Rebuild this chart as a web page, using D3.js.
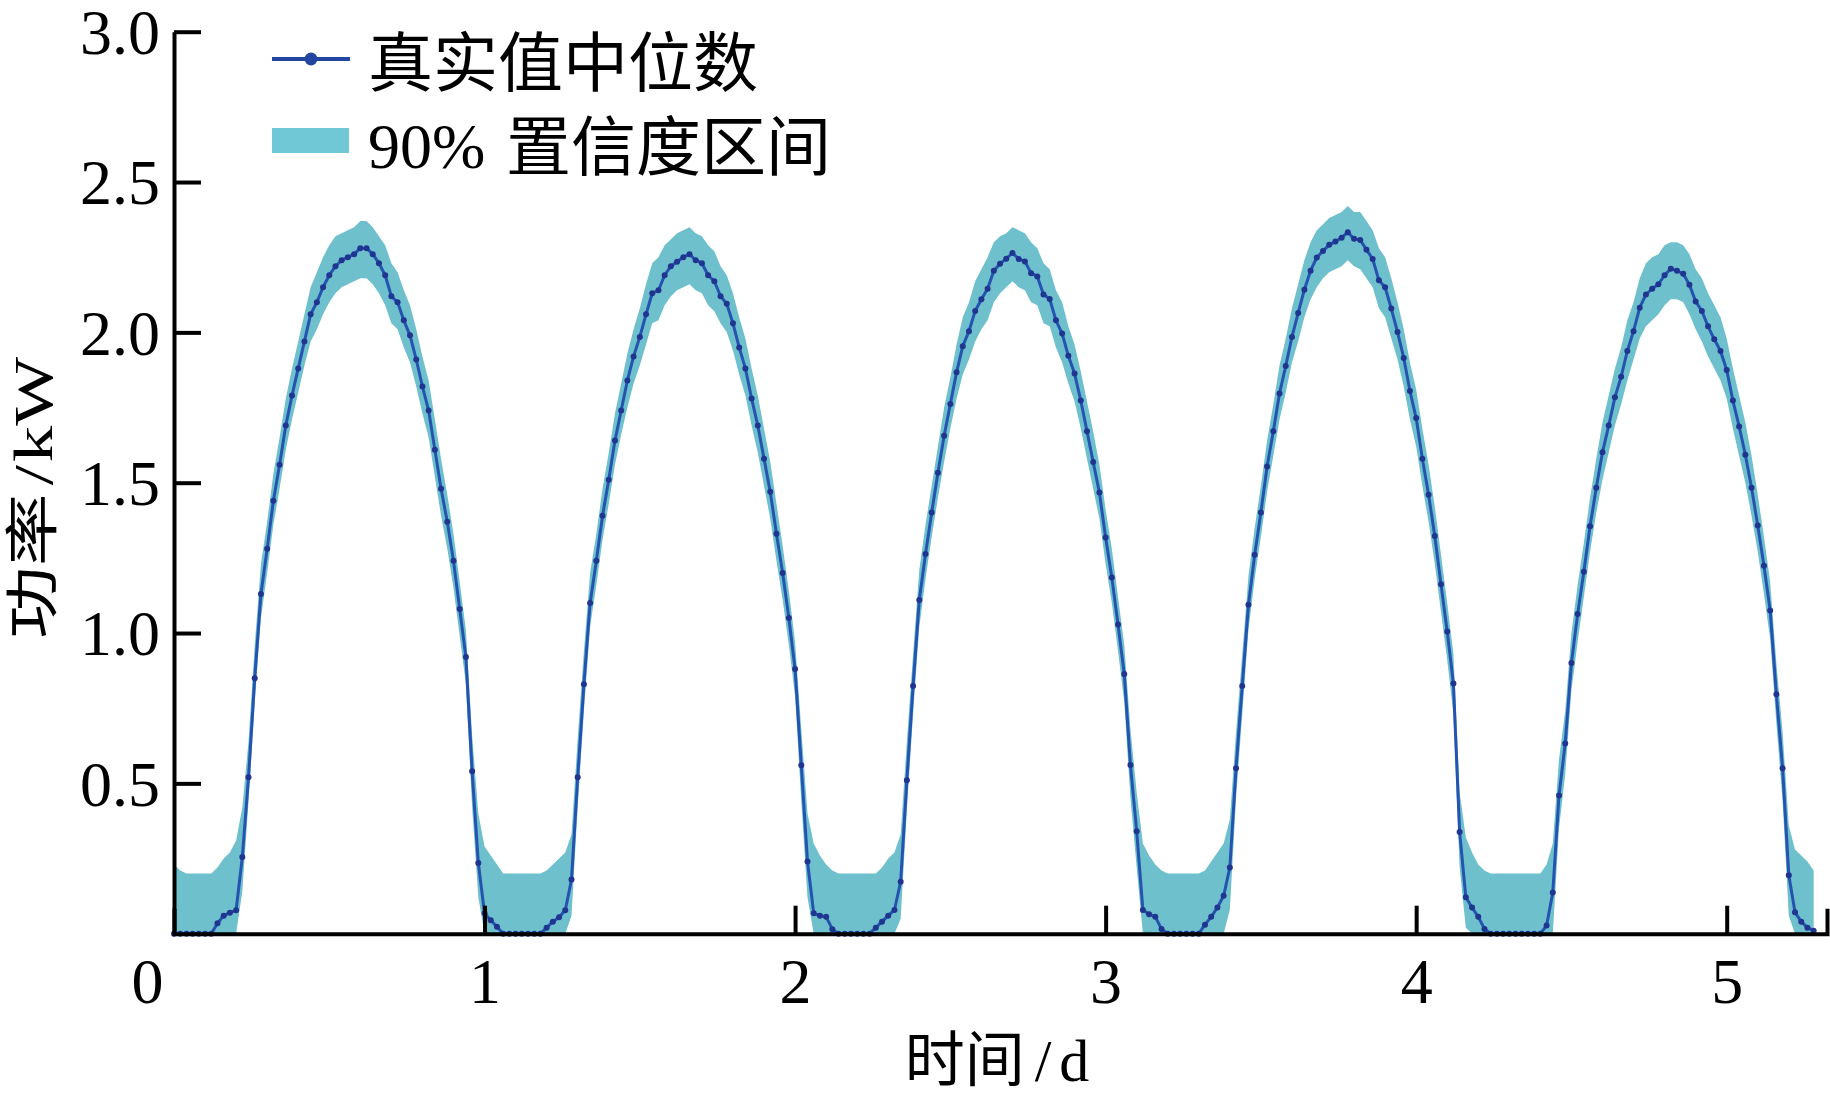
<!DOCTYPE html>
<html><head><meta charset="utf-8">
<script src="https://cdn.jsdelivr.net/npm/d3@7"></script>
<style>body{margin:0;background:#fff}</style>
</head><body>
<svg id="c" width="1830" height="1105"></svg>
<script>
// sample spacing on the time axis (days)
const STEP = 0.02;

// median of measured power (kW), one value per sample
const median = [
  0,0,0,0,0,0,0,0.035,0.06,0.07,                 // 0-9
  0.078,0.255,0.52,0.85,1.13,1.28,1.44,1.56,1.69,1.79, // 10-19
  1.88,1.97,2.06,2.10,2.15,2.19,2.22,2.24,2.25,2.26, // 20-29
  2.28,2.28,2.26,2.23,2.19,2.12,2.10,2.04,1.99,1.91, // 30-39
  1.82,1.74,1.61,1.48,1.37,1.24,1.08,0.92,0.54,0.235, // 40-49
  0.068,0.045,0.023,0,0,0,0,0,0,0,               // 50-59
  0.02,0.04,0.055,0.078,0.18,0.52,0.83,1.10,1.24,1.39, // 60-69
  1.51,1.64,1.74,1.84,1.92,1.985,2.06,2.13,2.14,2.19, // 70-79
  2.22,2.235,2.25,2.26,2.24,2.23,2.19,2.17,2.12,2.095, // 80-89
  2.03,1.95,1.88,1.78,1.69,1.58,1.47,1.33,1.20,1.05, // 90-99
  0.88,0.56,0.24,0.068,0.06,0.056,0.015,0,0,0,   // 100-109
  0,0,0,0.02,0.04,0.06,0.079,0.173,0.51,0.824,   // 110-119
  1.11,1.263,1.401,1.533,1.656,1.762,1.867,1.954,2.004,2.071, // 120-129
  2.11,2.145,2.205,2.228,2.245,2.264,2.244,2.236,2.197,2.186, // 130-139
  2.126,2.111,2.04,1.996,1.922,1.863,1.773,1.671,1.569,1.467, // 140-149
  1.318,1.185,1.028,0.864,0.561,0.341,0.079,0.065,0.056,0.016, // 150-159
  0,0,0,0,0,0,0.03,0.056,0.087,0.126,            // 160-169
  0.22,0.55,0.824,1.094,1.26,1.401,1.554,1.671,1.797,1.888, // 170-179
  1.985,2.064,2.142,2.205,2.249,2.271,2.291,2.302,2.315,2.333, // 180-189
  2.311,2.307,2.275,2.244,2.173,2.15,2.079,2.001,1.915,1.805, // 190-199
  1.715,1.58,1.46,1.323,1.162,1.005,0.832,0.338,0.121,0.087, // 200-209
  0.056,0.016,0,0,0,0,0,0,0,0,                   // 210-219
  0,0.027,0.137,0.46,0.633,0.9,1.063,1.204,1.355,1.483, // 220-229
  1.601,1.69,1.784,1.852,1.938,2.004,2.082,2.126,2.145,2.16, // 230-239
  2.19,2.212,2.205,2.195,2.158,2.103,2.071,2.02,1.977,1.938, // 240-249
  1.875,1.773,1.687,1.593,1.483,1.358,1.224,1.075,0.796,0.55, // 250-259
  0.194,0.071,0.04,0.02,0.01                     // 260-264
];

// upper bound of the 90% interval (kW)
const upper = [
  0.23,0.21,0.20,0.20,0.20,0.20,0.20,0.22,0.25,0.27,
  0.31,0.42,0.64,0.96,1.23,1.37,1.53,1.65,1.78,1.88,
  1.97,2.06,2.15,2.20,2.25,2.29,2.32,2.33,2.34,2.35,
  2.37,2.37,2.35,2.32,2.29,2.23,2.20,2.14,2.09,2.01,
  1.92,1.84,1.71,1.58,1.46,1.33,1.17,1.01,0.66,0.40,
  0.29,0.26,0.23,0.20,0.20,0.20,0.20,0.20,0.20,0.20,
  0.21,0.23,0.25,0.27,0.33,0.65,0.94,1.20,1.33,1.48,
  1.60,1.73,1.83,1.93,2.01,2.08,2.16,2.23,2.25,2.29,
  2.31,2.33,2.34,2.35,2.33,2.32,2.29,2.27,2.22,2.19,
  2.13,2.05,1.98,1.88,1.79,1.68,1.57,1.43,1.29,1.14,
  0.97,0.68,0.40,0.30,0.26,0.23,0.21,0.20,0.20,0.20,
  0.20,0.20,0.20,0.20,0.22,0.25,0.27,0.33,0.64,0.93,
  1.21,1.36,1.49,1.62,1.75,1.85,1.96,2.05,2.10,2.17,
  2.21,2.25,2.30,2.32,2.33,2.35,2.34,2.33,2.30,2.28,
  2.23,2.21,2.14,2.10,2.02,1.96,1.87,1.77,1.67,1.56,
  1.41,1.28,1.12,0.96,0.68,0.47,0.30,0.26,0.23,0.21,
  0.20,0.20,0.20,0.20,0.20,0.20,0.21,0.24,0.27,0.30,
  0.38,0.67,0.93,1.19,1.35,1.49,1.64,1.76,1.89,1.98,
  2.08,2.16,2.24,2.30,2.34,2.36,2.38,2.39,2.40,2.42,
  2.40,2.40,2.37,2.34,2.28,2.25,2.18,2.10,2.01,1.90,
  1.81,1.68,1.56,1.42,1.26,1.10,0.93,0.47,0.32,0.27,
  0.23,0.21,0.20,0.20,0.20,0.20,0.20,0.20,0.20,0.20,
  0.20,0.23,0.30,0.58,0.74,1.00,1.16,1.30,1.45,1.58,
  1.70,1.79,1.88,1.95,2.04,2.10,2.18,2.23,2.25,2.26,
  2.29,2.30,2.30,2.29,2.26,2.21,2.18,2.13,2.09,2.05,
  1.98,1.88,1.79,1.70,1.59,1.46,1.32,1.17,0.90,0.67,
  0.36,0.28,0.26,0.24,0.21
];

// lower bound of the 90% interval (kW)
const lower = [
  0,0,0,0,0,0,0,0,0,0,
  0,0.14,0.44,0.77,1.05,1.20,1.36,1.48,1.61,1.71,
  1.80,1.89,1.97,2.01,2.06,2.10,2.13,2.15,2.16,2.17,
  2.18,2.18,2.16,2.13,2.09,2.03,2.01,1.95,1.90,1.82,
  1.73,1.65,1.52,1.39,1.28,1.15,0.99,0.83,0.42,0.12,
  0,0,0,0,0,0,0,0,0,0,
  0,0,0,0,0.06,0.42,0.74,1.02,1.16,1.31,
  1.43,1.56,1.66,1.75,1.83,1.89,1.96,2.03,2.04,2.09,
  2.12,2.14,2.15,2.16,2.14,2.13,2.09,2.07,2.03,2.00,
  1.94,1.86,1.79,1.69,1.60,1.49,1.38,1.24,1.11,0.96,
  0.79,0.44,0.12,0,0,0,0,0,0,0,
  0,0,0,0,0,0,0,0.05,0.41,0.73,
  1.02,1.18,1.32,1.45,1.57,1.68,1.78,1.86,1.91,1.97,
  2.01,2.04,2.10,2.13,2.15,2.17,2.15,2.14,2.10,2.09,
  2.03,2.02,1.95,1.90,1.83,1.77,1.68,1.58,1.48,1.38,
  1.23,1.10,0.94,0.77,0.45,0.22,0,0,0,0,
  0,0,0,0,0,0,0,0,0,0,
  0.08,0.45,0.73,1.01,1.18,1.32,1.47,1.59,1.71,1.80,
  1.90,1.97,2.05,2.11,2.15,2.18,2.20,2.21,2.22,2.24,
  2.22,2.21,2.18,2.15,2.08,2.05,1.98,1.91,1.82,1.71,
  1.62,1.49,1.37,1.23,1.07,0.91,0.73,0.22,0.02,0,
  0,0,0,0,0,0,0,0,0,0,
  0,0,0,0.35,0.53,0.81,0.97,1.12,1.27,1.40,
  1.51,1.60,1.69,1.76,1.84,1.91,1.98,2.02,2.04,2.06,
  2.09,2.11,2.11,2.10,2.06,2.01,1.97,1.92,1.88,1.84,
  1.78,1.68,1.59,1.50,1.39,1.27,1.13,0.98,0.70,0.44,
  0.06,0,0,0,0
];

const xTicks = [0, 1, 2, 3, 4, 5];
const xTickLabels = ["0", "1", "2", "3", "4", "5"];
const yTicks = [0.5, 1.0, 1.5, 2.0, 2.5, 3.0];
const yTickLabels = ["0.5", "1.0", "1.5", "2.0", "2.5", "3.0"];
const legendLabels = ["真实值中位数", "90%", "置信度区间"];
const xTitle = ["时间", "/", "d"];
const yTitle = ["功率", "/", "kW"];

const data = median.map((m, i) => ({ t: i * STEP, m, lo: lower[i], hi: upper[i] }));

const SERIF = "'Liberation Serif','Times New Roman',serif";
const CJK = "'Noto Sans CJK SC','Noto Sans CJK JP',sans-serif";
const BAND = "#6ec0cc";
const LINE = "#2553b0";
const DOT = "#1f3590";

const svg = d3.select("#c");
svg.append("rect").attr("width", 1830).attr("height", 1105).attr("fill", "#fff");

const x = d3.scaleLinear().domain([0, 5.323]).range([174, 1827]);
const y = d3.scaleLinear().domain([0, 3]).range([933.7, 31.7]);

// band
svg.append("path").datum(data)
  .attr("fill", BAND)
  .attr("d", d3.area().x(d => x(d.t)).y0(d => y(d.lo)).y1(d => y(d.hi)));

// median line
svg.append("path").datum(data)
  .attr("fill", "none").attr("stroke", LINE).attr("stroke-width", 3)
  .attr("stroke-linejoin", "round")
  .attr("d", d3.line().x(d => x(d.t)).y(d => y(d.m)));

svg.append("g").selectAll("circle").data(data).join("circle")
  .attr("cx", d => x(d.t)).attr("cy", d => y(d.m)).attr("r", 3)
  .attr("fill", DOT);

// y axis
const yAxis = svg.append("g").attr("transform", `translate(${x(0)},0)`)
  .call(d3.axisLeft(y).tickValues(yTicks).tickSize(-27).tickSizeOuter(0).tickPadding(14)
    .tickFormat((d, i) => yTickLabels[i]));
yAxis.select(".domain").attr("stroke", "#000").attr("stroke-width", 4);
yAxis.selectAll(".tick line").attr("stroke", "#000").attr("stroke-width", 4);
yAxis.selectAll(".tick text").attr("font-family", SERIF).attr("font-size", 64).attr("fill", "#000")
  .attr("dy", "0.34em");

// x axis
const xAxis = svg.append("g").attr("transform", `translate(0,${y(0)})`)
  .call(d3.axisBottom(x).tickValues(xTicks).tickSize(-28).tickSizeOuter(-25).tickPadding(24)
    .tickFormat((d, i) => xTickLabels[i]));
xAxis.select(".domain").attr("stroke", "#000").attr("stroke-width", 4);
xAxis.selectAll(".tick line").attr("stroke", "#000").attr("stroke-width", 4);
xAxis.selectAll(".tick text").attr("font-family", SERIF).attr("font-size", 64).attr("fill", "#000");
xAxis.selectAll(".tick").filter(d => d === 0).select("text").attr("x", -27);
xAxis.selectAll(".tick").filter(d => d === 0).select("line").remove();

// axis titles
const xt = svg.append("text").attr("x", 997).attr("y", 1081).attr("text-anchor", "middle")
  .attr("font-size", 60).attr("fill", "#000");
xt.append("tspan").attr("font-family", CJK).text(xTitle[0]);
xt.append("tspan").attr("font-family", SERIF).attr("dx", 10).text(xTitle[1]);
xt.append("tspan").attr("font-family", SERIF).attr("dx", 8).text(xTitle[2]);

const yt = svg.append("g").attr("transform", "translate(52,498) rotate(-90) scale(1.35,1)")
  .append("text").attr("text-anchor", "middle").attr("font-size", 54).attr("fill", "#000");
yt.append("tspan").attr("font-family", CJK).text(yTitle[0]);
yt.append("tspan").attr("font-family", SERIF).attr("dx", 6).text(yTitle[1]);
yt.append("tspan").attr("font-family", SERIF).attr("dx", 2).text(yTitle[2]);

// legend
const lg = svg.append("g");
lg.append("line").attr("x1", 272).attr("x2", 350).attr("y1", 59).attr("y2", 59)
  .attr("stroke", "#2347a0").attr("stroke-width", 4);
lg.append("circle").attr("cx", 311).attr("cy", 59).attr("r", 6.5).attr("fill", "#2347a0");
lg.append("text").attr("x", 368).attr("y", 86).attr("font-family", CJK).attr("font-size", 65)
  .attr("fill", "#000").text(legendLabels[0]);
lg.append("rect").attr("x", 272).attr("y", 128).attr("width", 77).attr("height", 25)
  .attr("fill", "#70c8d6");
const l2 = lg.append("text").attr("x", 368).attr("y", 168).attr("fill", "#000");
l2.append("tspan").attr("font-family", SERIF).attr("font-size", 64).text(legendLabels[1]);
l2.append("tspan").attr("font-family", CJK).attr("font-size", 65).attr("x", 506).attr("y", 170).text(legendLabels[2]);
</script>
</body></html>
